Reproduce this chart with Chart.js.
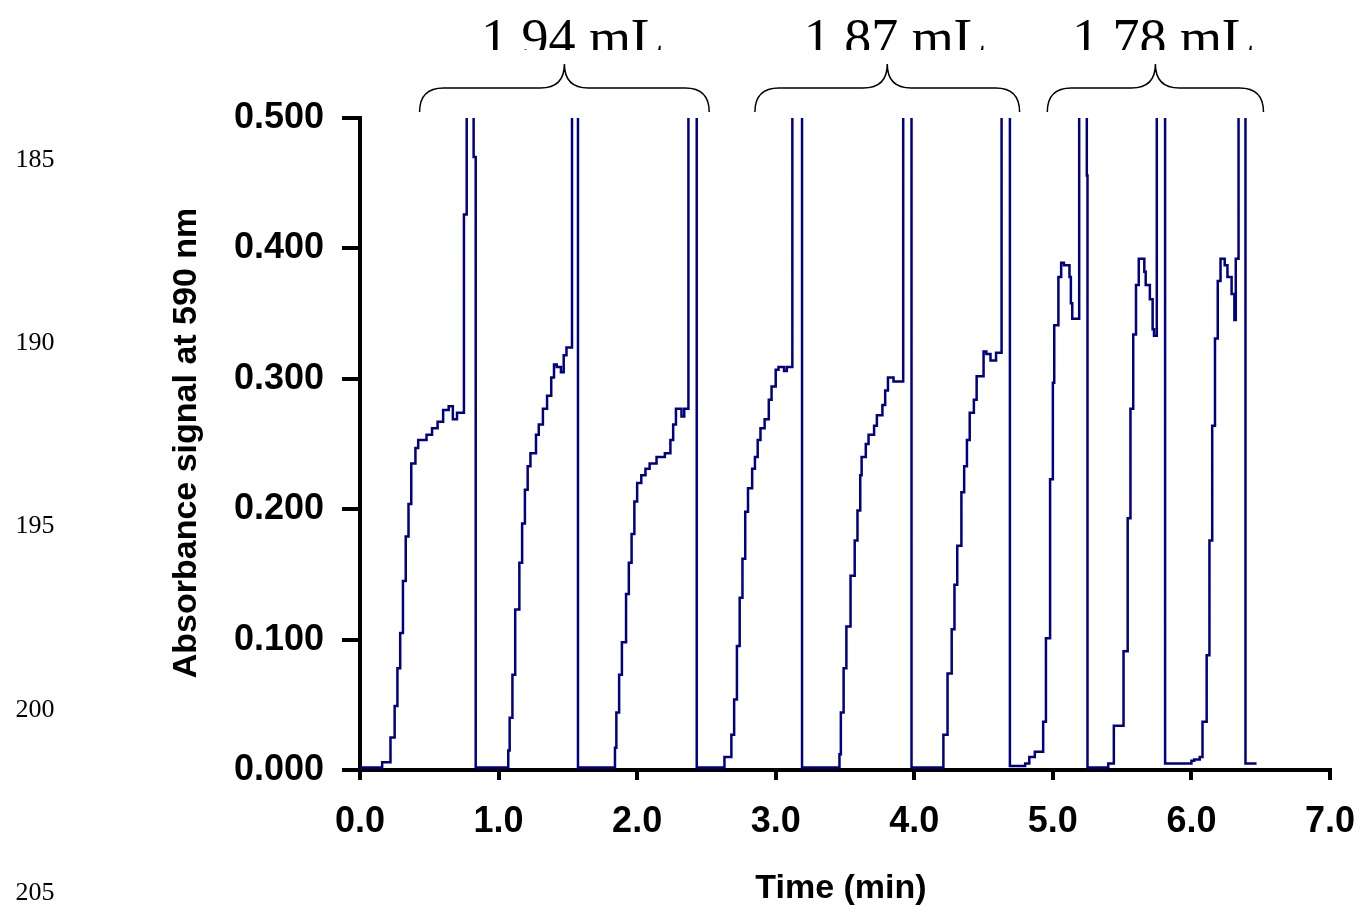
<!DOCTYPE html>
<html><head><meta charset="utf-8">
<script src="https://cdn.jsdelivr.net/npm/chart.js@4"></script>
<style>html,body{margin:0;background:#fff}#wrap{width:1361px;height:910px;position:relative}</style>
</head><body><div id="wrap"><canvas id="c"></canvas></div>
<script>
// time (min) and absorbance at 590 nm
const timeMin = [
  0, 0.16, 0.22, 0.25, 0.27, 0.29, 0.31, 0.33, 0.35, 0.37, 0.40, 0.42, 0.48, 0.52, 0.56, 0.60, 0.64, 0.67, 0.70, 0.75, 0.75, 0.77, 0.77, 0.82, 0.835, 0.84,
  1.00, 1.07, 1.08, 1.10, 1.12, 1.15, 1.17, 1.19, 1.21, 1.23, 1.27, 1.29, 1.32, 1.35, 1.38, 1.40, 1.42, 1.45, 1.47, 1.49, 1.51, 1.53, 1.53, 1.573, 1.573,
  1.74, 1.84, 1.85, 1.87, 1.89, 1.92, 1.94, 1.96, 1.98, 2.00, 2.03, 2.06, 2.09, 2.14, 2.20, 2.24, 2.26, 2.28, 2.30, 2.32, 2.34, 2.37, 2.37, 2.43, 2.43,
  2.63, 2.68, 2.70, 2.72, 2.74, 2.76, 2.78, 2.80, 2.83, 2.85, 2.87, 2.89, 2.92, 2.95, 2.97, 3.00, 3.02, 3.06, 3.08, 3.12, 3.12, 3.19, 3.19,
  3.46, 3.47, 3.49, 3.51, 3.54, 3.57, 3.59, 3.61, 3.62, 3.65, 3.67, 3.71, 3.73, 3.77, 3.79, 3.81, 3.85, 3.89, 3.92, 3.92, 3.98, 3.98,
  4.21, 4.24, 4.27, 4.29, 4.31, 4.34, 4.36, 4.38, 4.40, 4.43, 4.45, 4.50, 4.52, 4.55, 4.59, 4.63, 4.63, 4.69, 4.69,
  4.80, 4.83, 4.87, 4.93, 4.95, 4.98, 5.00, 5.01, 5.04, 5.06, 5.08, 5.12, 5.13, 5.14, 5.17, 5.19, 5.19, 5.245, 5.25, 5.25,
  5.40, 5.44, 5.51, 5.54, 5.56, 5.58, 5.60, 5.62, 5.64, 5.66, 5.67, 5.70, 5.72, 5.73, 5.75, 5.75, 5.81, 5.81,
  6.00, 6.02, 6.06, 6.08, 6.11, 6.13, 6.15, 6.17, 6.19, 6.21, 6.24, 6.26, 6.29, 6.31, 6.32, 6.32, 6.34, 6.34, 6.39, 6.39, 6.47
];
const absorbance = [
  0.000, 0.002, 0.006, 0.025, 0.049, 0.078, 0.105, 0.145, 0.179, 0.204, 0.235, 0.247, 0.253, 0.257, 0.262, 0.267, 0.276, 0.279, 0.269, 0.274, 0.404, 0.426, 0.600, 0.600, 0.470, 0.002,
  0.002, 0.002, 0.015, 0.040, 0.073, 0.123, 0.159, 0.189, 0.215, 0.233, 0.243, 0.257, 0.265, 0.277, 0.287, 0.301, 0.311, 0.309, 0.305, 0.318, 0.324, 0.324, 0.600, 0.600, 0.002,
  0.002, 0.002, 0.017, 0.044, 0.073, 0.098, 0.135, 0.159, 0.181, 0.206, 0.220, 0.226, 0.231, 0.235, 0.240, 0.243, 0.253, 0.265, 0.277, 0.277, 0.271, 0.277, 0.600, 0.600, 0.002,
  0.002, 0.010, 0.027, 0.054, 0.095, 0.132, 0.162, 0.198, 0.216, 0.231, 0.240, 0.253, 0.262, 0.269, 0.284, 0.294, 0.307, 0.309, 0.306, 0.309, 0.600, 0.600, 0.002,
  0.002, 0.012, 0.044, 0.078, 0.110, 0.149, 0.176, 0.199, 0.226, 0.240, 0.250, 0.257, 0.264, 0.272, 0.280, 0.291, 0.301, 0.298, 0.298, 0.600, 0.600, 0.002,
  0.002, 0.027, 0.074, 0.108, 0.142, 0.172, 0.213, 0.233, 0.253, 0.274, 0.284, 0.302, 0.321, 0.319, 0.314, 0.320, 0.600, 0.600, 0.003,
  0.003, 0.005, 0.010, 0.014, 0.037, 0.101, 0.223, 0.297, 0.341, 0.378, 0.389, 0.387, 0.378, 0.358, 0.346, 0.346, 0.600, 0.600, 0.456, 0.002,
  0.002, 0.005, 0.034, 0.091, 0.193, 0.277, 0.334, 0.372, 0.392, 0.392, 0.382, 0.372, 0.361, 0.338, 0.333, 0.600, 0.600, 0.005,
  0.005, 0.007, 0.008, 0.010, 0.037, 0.088, 0.176, 0.264, 0.331, 0.375, 0.392, 0.387, 0.378, 0.365, 0.345, 0.378, 0.392, 0.600, 0.600, 0.005, 0.005
];
const yTicks = [0, 0.1, 0.2, 0.3, 0.4, 0.5];
const xTicks = [0, 1, 2, 3, 4, 5, 6, 7];
const volumeLabels = ['1.94 mL', '1.87 mL', '1.78 mL'];
const bracketFrom = [0.43, 2.85, 4.96];
const bracketTo = [2.52, 4.76, 6.52];
const lineNumbers = ['185', '190', '195', '200', '205'];

const points = timeMin.map((t, i) => ({ x: t, y: absorbance[i] }));

const decor = {
  id: 'decor',
  afterDraw(chart) {
    const ctx = chart.ctx, xs = chart.scales.x;
    ctx.save();
    ctx.fillStyle = '#000';
    // axis titles
    ctx.font = 'bold 34px "Liberation Sans", Arial, sans-serif';
    ctx.textAlign = 'center'; ctx.textBaseline = 'middle';
    ctx.fillText('Time (min)', 841, 889);
    ctx.save();
    ctx.translate(187, 443);
    ctx.rotate(-Math.PI / 2);
    ctx.fillText('Absorbance signal at 590 nm', 0, 0);
    ctx.restore();
    // page line numbers
    ctx.font = '26px "Liberation Serif", "Times New Roman", serif';
    lineNumbers.forEach((n, i) => ctx.fillText(n, 35, 160 + i * 183.3));
    // brackets with volumes
    ctx.strokeStyle = '#000'; ctx.lineWidth = 1.5;
    volumeLabels.forEach((lab, i) => {
      const x1 = xs.getPixelForValue(bracketFrom[i]);
      const x2 = xs.getPixelForValue(bracketTo[i]);
      const xm = (x1 + x2) / 2, yb = 112, ym = 88, r = 24;
      ctx.beginPath();
      ctx.moveTo(x1, yb);
      ctx.quadraticCurveTo(x1, ym, x1 + r, ym);
      ctx.lineTo(xm - r, ym);
      ctx.quadraticCurveTo(xm, ym, xm, ym - 24);
      ctx.quadraticCurveTo(xm, ym, xm + r, ym);
      ctx.lineTo(x2 - r, ym);
      ctx.quadraticCurveTo(x2, ym, x2, yb);
      ctx.stroke();
      ctx.save();
      ctx.beginPath(); ctx.rect(xm - 150, 0, 300, 50); ctx.clip();
      ctx.font = '54px "Liberation Serif", "Times New Roman", serif';
      ctx.fillText(lab, xm + 8, 42);
      ctx.restore();
    });
    ctx.restore();
  }
};

new Chart(document.getElementById('c'), {
  type: 'line',
  data: { datasets: [{ data: points, borderColor: '#000080', borderWidth: 2.5, pointRadius: 0, stepped: 'after', fill: false }] },
  options: {
    responsive: true, maintainAspectRatio: false, animation: false,
    layout: { padding: { top: 118, right: 31, left: 0, bottom: 0 } },
    plugins: { legend: { display: false }, tooltip: { enabled: false } },
    scales: {
      x: {
        type: 'linear', min: 0, max: 7,
        afterBuildTicks: s => { s.ticks = xTicks.map(v => ({ value: v })); },
        afterFit: s => { s.height = 140; s.paddingLeft = 0; s.paddingRight = 0; },
        ticks: { color: '#000', font: { family: '"Liberation Sans", Arial', weight: 'bold', size: 36 }, padding: 20, maxRotation: 0,
          callback: v => v.toFixed(1) },
        grid: { drawOnChartArea: false, color: '#000', lineWidth: 4, tickLength: 10 },
        border: { color: '#000', width: 4 }
      },
      y: {
        min: 0, max: 0.5,
        afterBuildTicks: s => { s.ticks = yTicks.map(v => ({ value: v })); },
        afterFit: s => { s.width = 360; s.paddingTop = 0; s.paddingBottom = 0; },
        ticks: { color: '#000', font: { family: '"Liberation Sans", Arial', weight: 'bold', size: 36 }, padding: 18,
          callback: v => v.toFixed(3) },
        grid: { drawOnChartArea: false, color: '#000', lineWidth: 4, tickLength: 18 },
        border: { color: '#000', width: 4 }
      }
    }
  },
  plugins: [decor]
});
</script></body></html>
